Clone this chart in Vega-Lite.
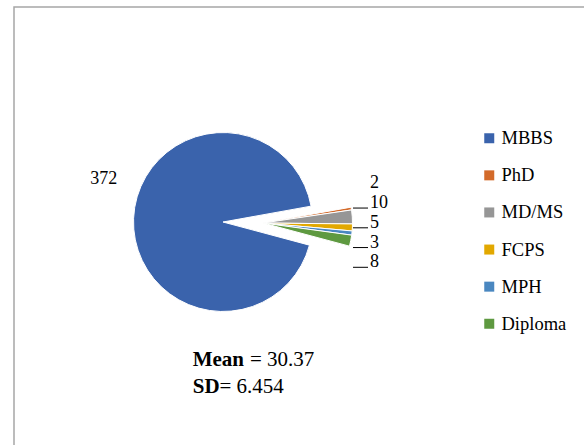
{
  "$schema": "https://vega.github.io/schema/vega-lite/v6.json",
  "width": 572,
  "height": 440,
  "autosize": {"type": "none"},
  "padding": {"left": 14, "top": 7, "right": 0, "bottom": 0},
  "background": "white",
  "config": {
    "view": {"stroke": "#A6A6A6", "strokeWidth": 1.5},
    "font": "Liberation Serif",
    "text": {"font": "Liberation Serif"},
    "legend": {
      "orient": "none",
      "legendX": 466,
      "legendY": 122,
      "padding": 0,
      "symbolType": "square",
      "symbolSize": 100,
      "symbolStrokeWidth": 0,
      "labelFont": "Liberation Serif",
      "labelFontSize": 18.5,
      "labelColor": "black",
      "labelOffset": 3,
      "rowPadding": 18.1
    }
  },
  "data": {
    "values": [
      {"idx": 1, "cat": "MBBS", "n": 372},
      {"idx": 2, "cat": "PhD", "n": 2},
      {"idx": 3, "cat": "MD/MS", "n": 10},
      {"idx": 4, "cat": "FCPS", "n": 5},
      {"idx": 5, "cat": "MPH", "n": 3},
      {"idx": 6, "cat": "Diploma", "n": 8}
    ]
  },
  "layer": [
    {
      "mark": {"type": "arc", "x": 209, "y": 215, "outerRadius": 89.5, "stroke": "white", "strokeWidth": 1},
      "encoding": {
        "theta": {"field": "n", "type": "quantitative", "stack": true, "scale": {"range": [1.8326, 8.1158]}},
        "order": {"field": "idx", "type": "quantitative"},
        "color": {
          "field": "cat",
          "type": "nominal",
          "scale": {
            "domain": ["MBBS", "PhD", "MD/MS", "FCPS", "MPH", "Diploma"],
            "range": ["#3A63AC", "#D36A2A", "#969696", "#E2A800", "#4A87C0", "#5E9940"]
          },
          "legend": {"title": null}
        },
        "opacity": {"condition": {"test": "datum.cat === 'MBBS'", "value": 1}, "value": 0}
      }
    },
    {
      "mark": {"type": "arc", "x": 209, "y": 215, "xOffset": 40, "yOffset": 1, "outerRadius": 89.5, "stroke": "white", "strokeWidth": 1},
      "encoding": {
        "theta": {"field": "n", "type": "quantitative", "stack": true},
        "order": {"field": "idx", "type": "quantitative"},
        "color": {"field": "cat", "type": "nominal"},
        "opacity": {"condition": {"test": "datum.cat === 'MBBS'", "value": 0}, "value": 1}
      }
    },
    {
      "mark": {"type": "text", "x": 209, "y": 215, "radius": 126.8, "thetaOffset": 0.305, "fontSize": 18, "font": "Liberation Serif", "color": "black", "align": "center", "baseline": "middle"},
      "encoding": {
        "theta": {"field": "n", "type": "quantitative", "stack": true},
        "order": {"field": "idx", "type": "quantitative"},
        "text": {"field": "n", "type": "quantitative"},
        "opacity": {"condition": {"test": "datum.cat === 'MBBS'", "value": 1}, "value": 0}
      }
    },
    {
      "transform": [{"filter": "datum.cat !== 'MBBS'"}],
      "mark": {"type": "text", "x": 356, "align": "left", "baseline": "alphabetic", "fontSize": 18, "font": "Liberation Serif", "color": "black"},
      "encoding": {
        "y": {
          "field": "cat",
          "type": "nominal",
          "scale": {"type": "point", "domain": ["PhD", "MD/MS", "FCPS", "MPH", "Diploma"], "range": [181.3, 260.3], "padding": 0},
          "axis": null
        },
        "text": {"field": "n", "type": "quantitative"}
      }
    },
    {
      "transform": [{"filter": "datum.cat !== 'MBBS'"}],
      "mark": {"type": "rule", "x": 339, "x2": 354, "color": "black", "strokeWidth": 1},
      "encoding": {
        "y": {"field": "cat", "type": "nominal"},
        "opacity": {"condition": {"test": "datum.cat === 'PhD'", "value": 0}, "value": 1}
      }
    },
    {
      "data": {"values": [{}]},
      "mark": {"type": "text", "text": "Mean", "x": 178.7, "y": 359, "align": "left", "baseline": "alphabetic", "fontSize": 21, "fontWeight": "bold", "font": "Liberation Serif", "color": "black"}
    },
    {
      "data": {"values": [{}]},
      "mark": {"type": "text", "text": "= 30.37", "x": 236, "y": 359, "align": "left", "baseline": "alphabetic", "fontSize": 21, "font": "Liberation Serif", "color": "black"}
    },
    {
      "data": {"values": [{}]},
      "mark": {"type": "text", "text": "SD", "x": 178.7, "y": 386.3, "align": "left", "baseline": "alphabetic", "fontSize": 21, "fontWeight": "bold", "font": "Liberation Serif", "color": "black"}
    },
    {
      "data": {"values": [{}]},
      "mark": {"type": "text", "text": "= 6.454", "x": 205.5, "y": 386.3, "align": "left", "baseline": "alphabetic", "fontSize": 21, "font": "Liberation Serif", "color": "black"}
    }
  ]
}
